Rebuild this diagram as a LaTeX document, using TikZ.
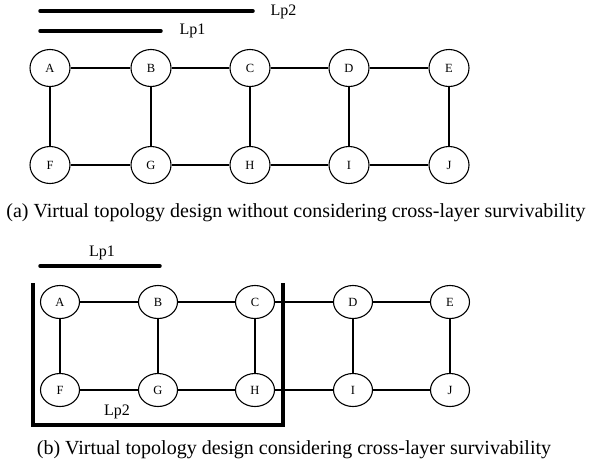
\documentclass[tikz,border=0pt]{standalone}
\usepackage{fontspec}
\setmainfont{Liberation Serif}
\usetikzlibrary{shapes.geometric}
\begin{document}
\begin{tikzpicture}[x=1pt,y=-1pt,
  vtx/.style={draw,ellipse,line width=1.1pt,inner sep=0pt,font=\fontsize{12.5}{14}\selectfont},
  vtxa/.style={vtx,minimum width=40pt,minimum height=37pt},
  vtxb/.style={vtx,minimum width=39pt,minimum height=33pt},
  link/.style={line width=1.1pt},
  lpath/.style={line width=3.5pt,line cap=round},
  lplabel/.style={font=\fontsize{16}{18}\selectfont},
  caption/.style={font=\fontsize{20}{23}\selectfont}]
\useasboundingbox (0,0) rectangle (592,475);

% (a) lightpaths
\coordinate (p2s) at (40,11);
\coordinate (p2e) at (253,11);
\coordinate (p1s) at (40,31);
\coordinate (p1e) at (161,31);
\draw[lpath] (p2s) -- (p2e);
\draw[lpath] (p1s) -- (p1e);
\node[lplabel,anchor=west] (lp2a) at (267,12) {Lp2};
\node[lplabel,anchor=west] (lp1a) at (176,31) {Lp1};

% (a) topology
\foreach \n/\x in {A/50,B/151,C/250,D/349,E/449}
  \node[vtxa] (a\n) at (\x,68) {\n};
\foreach \n/\x in {F/50,G/151,H/250,I/349,J/449}
  \node[vtxa] (a\n) at (\x,165) {\n};
\foreach \u/\v in {A/B,B/C,C/D,D/E,F/G,G/H,H/I,I/J,A/F,B/G,C/H,D/I,E/J}
  \draw[link] (a\u) -- (a\v);
\node[caption] (capa) at (296,213) {(a) Virtual topology design without considering cross-layer survivability};

% (b) lightpaths
\coordinate (q1s) at (40,266);
\coordinate (q1e) at (160,266);
\draw[lpath] (q1s) -- (q1e);
\node[lplabel] (lp1b) at (102,253) {Lp1};
\coordinate (q2a) at (33,283);
\coordinate (q2b) at (33,425);
\coordinate (q2c) at (283,425);
\coordinate (q2d) at (283,283);
\draw[line width=3.5pt,line cap=butt,line join=miter] (q2a) -- (q2b) -- (q2c) -- (q2d);
\node[lplabel] (lp2b) at (117,412) {Lp2};

% (b) topology
\foreach \n/\x in {A/60,B/158,C/255,D/353,E/450}
  \node[vtxb] (b\n) at (\x,302) {\n};
\foreach \n/\x in {F/60,G/158,H/255,I/353,J/450}
  \node[vtxb] (b\n) at (\x,390) {\n};
\foreach \u/\v in {A/B,B/C,C/D,D/E,F/G,G/H,H/I,I/J,A/F,B/G,C/H,D/I,E/J}
  \draw[link] (b\u) -- (b\v);
\node[caption] (capb) at (294,450) {(b) Virtual topology design considering cross-layer survivability};
\end{tikzpicture}
\end{document}
